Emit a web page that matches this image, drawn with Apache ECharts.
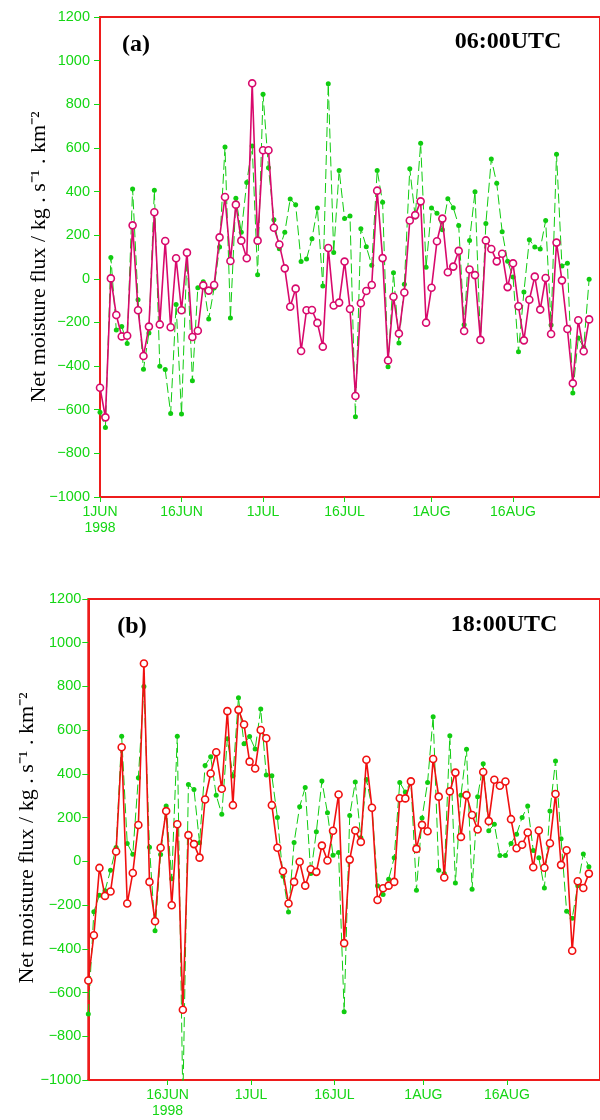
<!DOCTYPE html>
<html>
<head>
<meta charset="utf-8">
<script src="https://cdn.jsdelivr.net/npm/echarts@6/dist/echarts.min.js"></script>
<style>
html,body{margin:0;padding:0;background:#fff;}
#chart{width:600px;height:1120px;}
</style>
</head>
<body>
<div id="chart"></div>
<script>
// ---- Data (days since 1 June 1998) ----
// Panel (a) 06:00UTC
const a06Main = [-499,-635,2,-166,-264,-261,245,-144,-354,-219,
  305,-209,173,-222,94,-144,120,-267,-238,-30,
  -54,-28,190,375,82,340,175,94,896,175,
  589,589,234,157,48,-128,-45,-331,-144,-143,
  -202,-311,141,-122,-109,79,-138,-537,-112,-56,
  -28,404,95,-374,-82,-251,-63,267,292,355,
  -201,-41,172,276,30,56,128,-239,43,17,
  -280,176,137,80,115,-38,71,-126,-282,-96,
  10,-141,4,-253,166,-7,-230,-479,-190,-332,-186];
const a06Green = [-612,-681,98,-235,-219,-296,412,-96,-415,-248,
  406,-401,-416,-617,-118,-620,115,-467,-41,-13,
  -184,-42,146,604,-180,369,213,442,609,19,
  846,509,271,138,213,366,340,79,91,184,
  325,-33,894,121,497,277,288,-632,230,147,
  62,497,351,-403,28,-294,-25,505,283,621,
  53,325,300,225,367,326,244,-210,176,399,
  -282,253,549,438,216,80,8,-334,-60,179,
  146,137,267,-212,571,59,71,-523,-271,-314,-2];
// Panel (b) 18:00UTC
const b18Main = [-545,-338,-30,-158,-138,45,522,-193,-53,166,
  905,-94,-274,62,230,-201,170,-679,120,79,
  17,283,402,499,332,687,257,693,626,456,
  425,601,563,257,62,-45,-193,-94,-2,-111,
  -36,-48,72,4,140,306,-374,8,141,89,
  465,245,-177,-123,-111,-94,289,288,366,57,
  167,138,468,296,-74,320,406,112,303,212,
  146,409,184,373,346,365,193,60,76,132,
  -27,141,-29,83,308,-16,51,-409,-91,-122,-56];
const b18Green = [-698,-230,-155,-134,-41,63,572,82,33,383,
  800,65,-317,31,253,-80,572,-1100,351,329,
  85,438,479,302,215,561,390,748,538,571,
  514,697,395,392,201,-68,-232,86,250,338,
  -56,135,367,222,28,40,-688,210,363,108,
  375,248,-111,-152,-82,17,361,317,367,-132,
  198,361,662,-41,-56,574,-99,302,513,-128,
  296,447,140,170,27,27,82,124,201,253,
  50,16,-122,230,459,103,-228,-260,-111,34,-25];
// tick positions (day index) and labels
const tickDaysA = [0, 15, 30, 45, 61, 76];
const tickLabelsA = ['1JUN\n1998', '16JUN', '1JUL', '16JUL', '1AUG', '16AUG'];
const tickDaysB = [15, 30, 45, 61, 76];
const tickLabelsB = ['16JUN\n1998', '1JUL', '16JUL', '1AUG', '16AUG'];

const GREEN = '#10cc10';
const LBL = '#14d614';
const MAG = '#d8096c';
const RED = '#f01010';
const BORDER = '#ee1c1c';
const tickFont = "'Liberation Sans',Arial,sans-serif";

function toXY(arr, offset) { return arr.map((v, i) => [i + offset, v]); }
function labelFor(days, labels) {
  return v => { const i = days.indexOf(Math.round(v * 100) / 100); return i >= 0 ? labels[i] : ''; };
}
function yFmt(v) { return v < 0 ? '\u2212' + Math.abs(v) : String(v); }

function xAxis(idx, min, max, days, labels) {
  return {
    type: 'value', gridIndex: idx, min: min, max: max,
    axisLine: { show: true, onZero: false, lineStyle: { color: BORDER, width: 2 } },
    splitLine: { show: false },
    axisTick: { show: true, inside: false, length: 5, customValues: days, lineStyle: { color: LBL, width: 1 } },
    axisLabel: { show: true, customValues: days, formatter: labelFor(days, labels),
      color: LBL, fontFamily: tickFont, fontSize: 14, lineHeight: 16, margin: 7 }
  };
}
function yAxis(idx, margin) {
  return {
    type: 'value', gridIndex: idx, min: -1000, max: 1200, interval: 200,
    axisLine: { show: true, onZero: false, lineStyle: { color: BORDER, width: 2 } },
    splitLine: { show: false },
    axisTick: { show: true, length: 6, lineStyle: { color: LBL, width: 1 } },
    axisLabel: { color: LBL, fontFamily: tickFont, fontSize: 14.5, margin: margin, formatter: yFmt }
  };
}
function greenSeries(idx, data) {
  return { type: 'line', xAxisIndex: idx, yAxisIndex: idx, data: data, z: 2,
    symbol: 'circle', symbolSize: 5, clip: true,
    itemStyle: { color: GREEN },
    lineStyle: { color: GREEN, width: 1, type: [10, 4] } };
}
function mainSeries(idx, data, col) {
  return { type: 'line', xAxisIndex: idx, yAxisIndex: idx, data: data, z: 3,
    symbol: 'circle', symbolSize: 7, clip: true,
    itemStyle: { color: '#ffffff', borderColor: col, borderWidth: 1.6 },
    lineStyle: { color: col, width: 1.6 } };
}
const yName = 'Net moisture flux / kg . s\u207B\u00B9 . km\u207B\u00B2';
const titleFont = "bold 24px 'Liberation Serif','Times New Roman',serif";
const nameFont = "22px 'Liberation Serif','Times New Roman',serif";

const chart = echarts.init(document.getElementById('chart'), null, { renderer: 'canvas' });
chart.setOption({
  animation: false,
  backgroundColor: '#ffffff',
  grid: [
    { left: 100, top: 17, width: 510.4, height: 480, show: true, borderColor: BORDER, borderWidth: 2, backgroundColor: 'transparent' },
    { left: 88.3, top: 599, width: 523.5, height: 481, show: true, borderColor: BORDER, borderWidth: 2, backgroundColor: 'transparent' }
  ],
  xAxis: [ xAxis(0, 0, 92, tickDaysA, tickLabelsA), xAxis(1, 0.75, 92.75, tickDaysB, tickLabelsB) ],
  yAxis: [ yAxis(0, 10), yAxis(1, 7) ],
  series: [
    greenSeries(0, toXY(a06Green, 0)),
    mainSeries(0, toXY(a06Main, 0), MAG),
    greenSeries(1, toXY(b18Green, 0.75)),
    mainSeries(1, toXY(b18Main, 0.75), RED)
  ],
  graphic: [
    { type: 'text', x: 136, y: 45, z: 10, style: { text: '(a)', font: titleFont, fill: '#000', align: 'center', verticalAlign: 'middle' } },
    { type: 'text', x: 508, y: 42, z: 10, style: { text: '06:00UTC', font: titleFont, fill: '#000', align: 'center', verticalAlign: 'middle' } },
    { type: 'text', x: 132, y: 627, z: 10, style: { text: '(b)', font: titleFont, fill: '#000', align: 'center', verticalAlign: 'middle' } },
    { type: 'text', x: 504, y: 625, z: 10, style: { text: '18:00UTC', font: titleFont, fill: '#000', align: 'center', verticalAlign: 'middle' } },
    { type: 'text', x: 39, y: 257, rotation: Math.PI / 2, z: 10, style: { text: yName, font: nameFont, fill: '#000', align: 'center', verticalAlign: 'middle' } },
    { type: 'text', x: 27, y: 838, rotation: Math.PI / 2, z: 10, style: { text: yName, font: nameFont, fill: '#000', align: 'center', verticalAlign: 'middle' } }
  ]
});
</script>
</body>
</html>
